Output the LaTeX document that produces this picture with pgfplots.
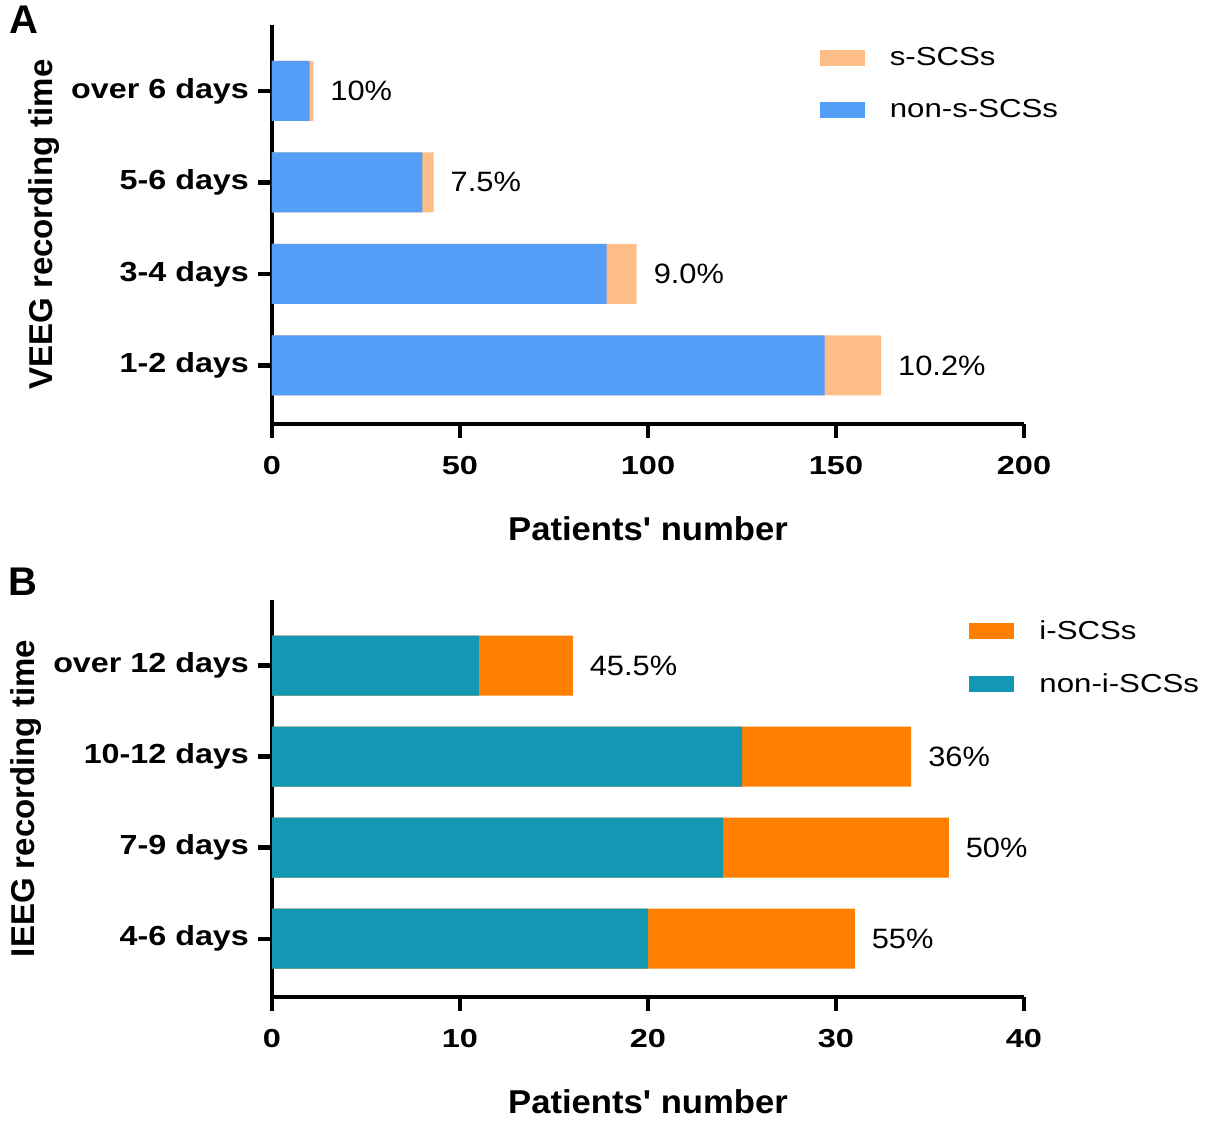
\documentclass[border=0pt]{standalone}
\usepackage{pgfplots}
\pgfplotsset{compat=1.18}
\usepackage{fontspec}
\setmainfont{Liberation Sans}
\newfontfamily\tickf[FakeStretch=1.25]{Liberation Sans}
\newfontfamily\catf[FakeStretch=1.17]{Liberation Sans}
\newfontfamily\legf[FakeStretch=1.2]{Liberation Sans}
\newfontfamily\pctf[FakeStretch=1.1]{Liberation Sans}
\newfontfamily\labf[FakeStretch=1.05]{Liberation Sans}
\definecolor{cblue}{RGB}{85,158,248}
\definecolor{corangeL}{RGB}{252,190,134}
\definecolor{cteal}{RGB}{18,152,178}
\definecolor{corange}{RGB}{255,128,0}
\pgfplotsset{mystyle/.style={
  scale only axis, width=376pt,
  xbar, bar shift=0pt, bar width=30pt,
  axis x line*=bottom, axis y line*=left,
  axis line style={line width=2.2pt,-,black},
  xmin=0, ymin=-0.64, ymax=3.72, ytick={0,1,2,3},
  tick style={line width=2.2pt,black}, major tick length=7pt, tick align=outside,
  xtick pos=bottom, ytick pos=left,
  clip=false,
  /pgf/number format/assume math mode=true,
  xticklabel style={font=\tickf\bfseries\fontsize{13}{14}\selectfont, yshift=-5.5pt},
  yticklabel style={font=\catf\bfseries\fontsize{13.8}{15}\selectfont, xshift=-1pt},
  xlabel style={font=\labf\bfseries\fontsize{16.5}{18}\selectfont, yshift=-14pt},
  ylabel style={font=\bfseries\fontsize{16.5}{18}\selectfont, yshift=-1pt},
  xlabel={Patients' number},
  legend cell align=left,
  legend style={draw=none, fill=none, font=\legf\fontsize{13}{15}\selectfont, row sep=11.5pt, anchor=north west},
  legend image code/.code={\fill[##1,draw=none] (0pt,-4pt) rectangle (22.5pt,4pt); \path (33pt,0pt);},
  every node near coord/.append style={font=\pctf\fontsize{14}{16}\selectfont, anchor=west, xshift=5pt, text=black},
}}
\begin{document}
\begin{tikzpicture}
\path[use as bounding box] (-136pt,-348pt) rectangle (470.5pt,212pt);
\begin{axis}[mystyle, at={(0pt,0pt)}, anchor=south west, height=199.5pt,
  xmax=200, xtick={0,50,100,150,200},
  yticklabels={1-2 days,3-4 days,5-6 days,over 6 days},
  ylabel={VEEG recording time},
  legend style={at={(0.72,0.965)}}]
% total patients (s-SCSs segment visible beyond non-s-SCSs)
\addplot[fill=corangeL, draw=none, nodes near coords, point meta=explicit symbolic]
  coordinates {(162,0)[10.2\%] (97,1)[9.0\%] (43,2)[7.5\%] (11,3)[10\%]};
\addlegendentry{s-SCSs}
\addplot[fill=cblue, draw=none] coordinates {(147,0) (89,1) (40,2) (10,3)};
\addlegendentry{non-s-SCSs}
\end{axis}
\begin{axis}[mystyle, at={(0pt,-286.5pt)}, anchor=south west, height=198.5pt,
  xmax=40, xtick={0,10,20,30,40},
  yticklabels={4-6 days,7-9 days,10-12 days,over 12 days},
  ylabel={IEEG recording time},
  legend style={at={(0.919,0.97)}}]
\addplot[fill=corange, draw=none, nodes near coords, point meta=explicit symbolic]
  coordinates {(31,0)[55\%] (36,1)[50\%] (34,2)[36\%] (16,3)[45.5\%]};
\addlegendentry{i-SCSs}
\addplot[fill=cteal, draw=none] coordinates {(20,0) (24,1) (25,2) (11,3)};
\addlegendentry{non-i-SCSs}
\end{axis}
\node[font=\bfseries\fontsize{20}{22}\selectfont] at (-124pt,202pt) {A};
\node[font=\bfseries\fontsize{20}{22}\selectfont] at (-124.5pt,-79pt) {B};
\end{tikzpicture}
\end{document}
